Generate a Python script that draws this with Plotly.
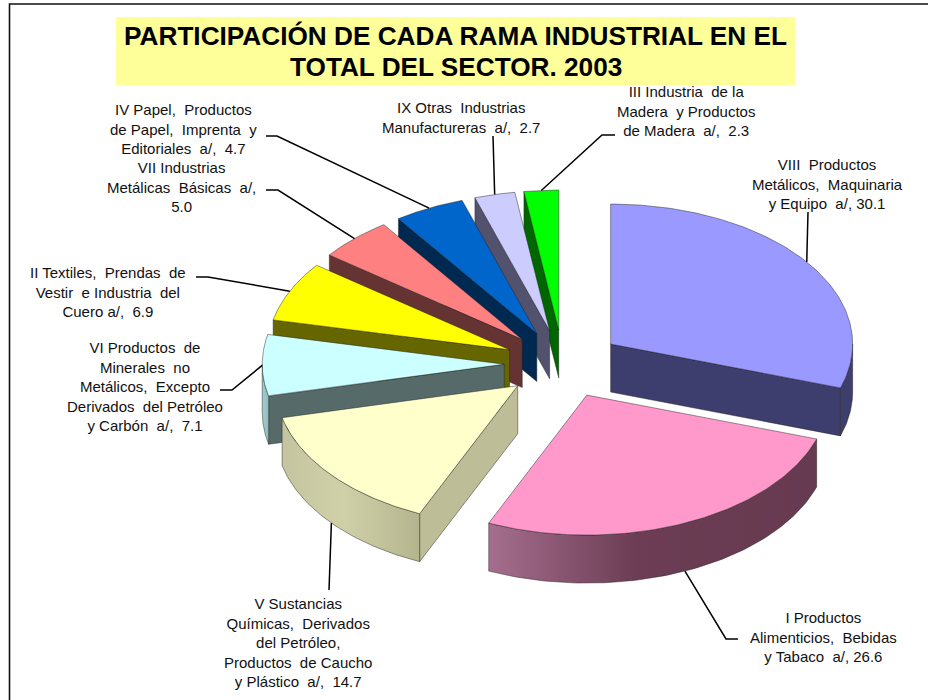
import numpy as np
import plotly.graph_objects as go

TITLE_LINE_1 = "PARTICIPACIÓN DE CADA RAMA INDUSTRIAL EN EL"
TITLE_LINE_2 = "TOTAL DEL SECTOR. 2003"

# Data, in pie order (clockwise from 12 o'clock)
categories = ["VIII", "I", "V", "VI", "II", "VII", "IV", "IX", "III"]
values = [30.1, 26.6, 14.7, 7.1, 6.9, 5.0, 4.7, 2.7, 2.3]
label_texts = [
    "VIII  Productos<br>Metálicos,  Maquinaria<br>y Equipo  a/, 30.1",
    "I Productos<br>Alimenticios,  Bebidas<br>y Tabaco  a/, 26.6",
    "V Sustancias<br>Químicas,  Derivados<br>del Petróleo,<br>Productos  de Caucho<br>y Plástico  a/,  14.7",
    "VI Productos  de<br>Minerales  no<br>Metálicos,  Excepto<br>Derivados  del Petróleo<br>y Carbón  a/,  7.1",
    "II Textiles,  Prendas  de<br>Vestir  e Industria  del<br>Cuero a/,  6.9",
    "VII Industrias<br>Metálicas  Básicas  a/,<br>5.0",
    "IV Papel,  Productos<br>de Papel,  Imprenta  y<br>Editoriales  a/,  4.7",
    "IX Otras  Industrias<br>Manufactureras  a/,  2.7",
    "III Industria  de la<br>Madera  y Productos<br>de Madera  a/,  2.3",
]

# Styles
top_colors = ["#9999FF", "#FF99CC", "#FFFFCC", "#CCFFFF", "#FFFF00", "#FF8080", "#0066CC", "#CCCCFF", "#00FF00"]
radial_colors = ["#3D3D6E", "#6A3B52", "#BDBD98", "#566A6A", "#666600", "#663333", "#002952", "#52526E", "#006600"]
arc_scales = {
    "I": [[0, "#A56E8E"], [0.45, "#6C3D54"], [1, "#663A50"]],
    "V": [[0, "#C4C4A0"], [0.45, "#D0D0A8"], [1, "#B4B48E"]],
    "VIII": [[0, "#3D3D6E"], [1, "#3D3D6E"]],
    "VI": [[0, "#A0CCCC"], [1, "#8FBDBD"]],
}

# Layout of the pie in the page (pixels)
CX, CY = 563.0, 364.0
RX, RY = 242.0, 140.0
EXPLODE = 0.243
DEPTH = 48.0

# Label placement: label centre and leader-line elbow points
label_x = [827, 823, 298, 145, 108, 181, 183, 461, 686]
label_y = [184, 637, 642, 386, 292, 187, 129, 117, 111]
leader_elbows = [
    [(808, 212)],
    [(726, 639), (738, 639)],
    [(329, 590)],
    [(232, 390), (220, 390)],
    [(208, 277), (196, 277)],
    [(278, 190), (266, 190)],
    [(277, 136), (266, 136)],
    [(493, 136)],
    [(602, 135), (615, 135)],
]

EDGE = dict(color="rgba(30,30,30,0.65)", width=0.7)
total = sum(values)
edges = np.concatenate([[0], np.cumsum(values)]) / total * 2 * np.pi
slices = {}
for i, c in enumerate(categories):
    a1, a2 = edges[i], edges[i + 1]
    mid = (a1 + a2) / 2
    slices[c] = dict(
        i=i, a1=a1, a2=a2, mid=mid,
        ax=CX + EXPLODE * RX * np.sin(mid),
        ay=CY - EXPLODE * RY * np.cos(mid),
    )


def rim(s, a):
    return s["ax"] + RX * np.sin(a), s["ay"] - RY * np.cos(a)


fig = go.Figure()


def poly(xs, ys, color, name, gradient=None, hover=False):
    kw = {}
    if gradient is not None:
        kw["fillgradient"] = dict(type="horizontal", colorscale=gradient,
                                  start=float(min(xs)), stop=float(max(xs)))
    else:
        kw["fillcolor"] = color
    fig.add_trace(go.Scatter(
        x=list(xs), y=list(ys), mode="lines", fill="toself", line=EDGE,
        showlegend=False, name=name, hoverinfo="name" if hover else "skip", **kw))


def radial_wall(s, a, color, name):
    qx, qy = rim(s, a)
    poly([s["ax"], qx, qx, s["ax"], s["ax"]],
         [s["ay"], qy, qy + DEPTH, s["ay"] + DEPTH, s["ay"]], color, name)


# Painter's order: from the back of the pie to the front
draw_order = ["III", "IX", "IV", "VII", "II", "VI", "V", "VIII", "I"]
for c in draw_order:
    s = slices[c]
    i = s["i"]
    if np.sin(s["a1"]) < 0:
        radial_wall(s, s["a1"], radial_colors[i], c)
    if np.sin(s["a2"]) > 0:
        radial_wall(s, s["a2"], radial_colors[i], c)
    lo, hi = max(s["a1"], np.pi / 2), min(s["a2"], 3 * np.pi / 2)
    if hi > lo:
        t = np.linspace(lo, hi, 80)
        ax_, ay_ = rim(s, t)
        xs = np.concatenate([ax_, ax_[::-1], ax_[:1]])
        ys = np.concatenate([ay_, ay_[::-1] + DEPTH, ay_[:1]])
        poly(xs, ys, radial_colors[i], c, gradient=arc_scales.get(c))
    t = np.linspace(s["a1"], s["a2"], 120)
    rx_, ry_ = rim(s, t)
    poly(np.concatenate([[s["ax"]], rx_, [s["ax"]]]),
         np.concatenate([[s["ay"]], ry_, [s["ay"]]]),
         top_colors[i], f"{c}: {values[i]}", hover=True)

# Leader lines start on the edge of the slice they belong to
front_labels = {"V", "I"}
for c, elbow in zip(categories, leader_elbows):
    s = slices[c]
    sx, sy = rim(s, s["mid"])
    if c in front_labels:
        sy += DEPTH
    fig.add_trace(go.Scatter(
        x=[sx] + [p[0] for p in elbow], y=[sy] + [p[1] for p in elbow],
        mode="lines", line=dict(color="#000000", width=1.5),
        showlegend=False, hoverinfo="skip"))

for txt, x, y in zip(label_texts, label_x, label_y):
    fig.add_annotation(x=x, y=y, xref="x", yref="y",
                       text=txt.replace("  ", "\u00a0 "), showarrow=False,
                       xanchor="center", yanchor="middle", align="center",
                       font=dict(family="Liberation Sans", size=15, color="#111111"))

TITLE_FONT = dict(family="Liberation Sans", size=26.2, color="#000000", weight="bold")
fig.add_annotation(x=456, y=67, xref="x", yref="y", text=TITLE_LINE_2, showarrow=False,
                   xanchor="center", yanchor="middle", font=TITLE_FONT)

fig.add_shape(type="rect", xref="x", yref="y", x0=116, x1=795, y0=17, y1=85,
              fillcolor="#FFFF99", line_width=0, layer="below")
fig.add_shape(type="rect", xref="x", yref="y", x0=9.5, x1=960, y0=4, y1=740,
              fillcolor="rgba(0,0,0,0)", line=dict(color="#111111", width=1.6), layer="above")

fig.update_layout(
    width=928, height=700, autosize=False,
    margin=dict(l=0, r=0, t=0, b=0),
    paper_bgcolor="#FFFFFF", plot_bgcolor="#FFFFFF",
    title=dict(text=TITLE_LINE_1, x=455.5 / 928, xanchor="center", xref="paper",
               y=1 - 36 / 700, yanchor="middle", yref="container", font=TITLE_FONT),
    xaxis=dict(range=[0, 928], visible=False, fixedrange=True),
    yaxis=dict(range=[700, 0], visible=False, fixedrange=True),
)
fig.write_html("out.html", config={"displayModeBar": False},
               post_script="document.body.style.margin='0';document.documentElement.style.overflow='hidden';")
